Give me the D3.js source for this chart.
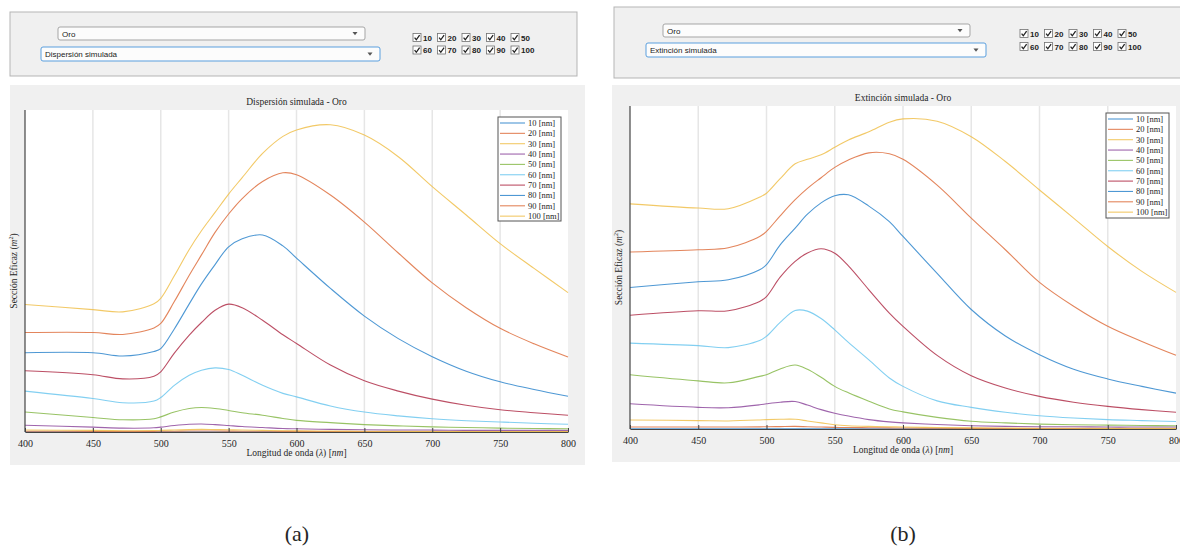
<!DOCTYPE html>
<html>
<head>
<meta charset="utf-8">
<script src="https://cdn.jsdelivr.net/npm/d3@7"></script>
<style>
  body { margin: 0; background: #fff; }
  svg { display: block; }
  .ui { font-family: "Liberation Sans", Arial, sans-serif; font-size: 8px; fill: #222; }
  .serif { font-family: "Liberation Serif", "Times New Roman", serif; fill: #262626; }
</style>
</head>
<body>
<div class="container"></div>
<script>
const sizes = ['10', '20', '30', '40', '50', '60', '70', '80', '90', '100'];
const colors = ['#2f86cc', '#de7040', '#f0bf4c', '#8e4a9e', '#86b84a', '#6cc7ee', '#b0304a', '#2f86cc', '#de7040', '#f0bf4c'];
const ticks = [400, 450, 500, 550, 600, 650, 700, 750, 800];
const lambda = [400, 450, 472, 495, 500, 510, 521, 530, 540, 550, 560, 575, 590, 600, 625, 650, 675, 700, 725, 750, 775, 800];

// Dispersión simulada (one array per size, same order as sizes)
const scaA10 = [0.05, 0.05, 0.05, 0.05, 0.05, 0.05, 0.06, 0.06, 0.06, 0.06, 0.05, 0.05, 0.05, 0.05, 0.04, 0.04, 0.04, 0.03, 0.03, 0.03, 0.03, 0.03];
const scaA20 = [0.25, 0.2, 0.2, 0.2, 0.22, 0.25, 0.3, 0.3, 0.3, 0.28, 0.25, 0.22, 0.2, 0.18, 0.15, 0.12, 0.1, 0.1, 0.1, 0.1, 0.1, 0.1];
const scaA30 = [0.6, 0.5, 0.4, 0.45, 0.5, 0.6, 0.75, 0.8, 0.75, 0.7, 0.6, 0.5, 0.4, 0.35, 0.3, 0.25, 0.2, 0.2, 0.2, 0.15, 0.15, 0.15];
const scaA40 = [2.1, 1.5, 1.2, 1.3, 1.5, 2.0, 2.4, 2.5, 2.3, 2.0, 1.7, 1.4, 1.1, 1.0, 0.8, 0.7, 0.6, 0.6, 0.5, 0.5, 0.5, 0.5];
const scaA50 = [6.2, 4.5, 3.8, 4.1, 4.7, 6.2, 7.3, 7.6, 7.3, 6.7, 6.0, 5.2, 4.2, 3.6, 2.9, 2.3, 1.9, 1.6, 1.4, 1.2, 1.1, 1.0];
const scaA60 = [12.7, 10.4, 9.1, 9.6, 10.7, 14.5, 17.6, 19.2, 19.9, 19.4, 17.6, 14.5, 12.0, 10.9, 8.1, 6.2, 5.0, 4.1, 3.5, 3.1, 2.7, 2.4];
const scaA70 = [19.0, 17.8, 16.5, 17.3, 18.7, 24.5, 30.1, 34.0, 37.8, 39.7, 38.6, 34.7, 30.2, 27.5, 20.8, 15.9, 12.7, 10.2, 8.3, 6.9, 6.0, 5.2];
const scaA80 = [24.6, 24.6, 23.6, 25.0, 25.9, 32.0, 39.8, 46.0, 52.0, 57.5, 60.0, 61.2, 57.8, 54.0, 44.6, 36.0, 29.0, 23.4, 18.9, 15.6, 13.2, 11.1];
const scaA90 = [30.9, 30.9, 30.3, 32.3, 33.7, 40.5, 48.7, 55.0, 62.0, 67.7, 72.5, 77.8, 80.5, 79.9, 73.6, 65.2, 55.6, 46.3, 38.6, 32.2, 27.4, 23.3];
const scaA100 = [39.6, 38.0, 37.3, 39.8, 41.5, 48.5, 56.7, 62.5, 68.2, 73.9, 79.0, 86.5, 91.8, 93.8, 95.4, 92.2, 85.5, 76.2, 67.4, 58.5, 50.8, 43.3];

// Extinción simulada
const extB10 = [0.1, 0.1, 0.1, 0.1, 0.1, 0.1, 0.1, 0.1, 0.1, 0.1, 0.1, 0.1, 0.1, 0.1, 0.08, 0.08, 0.07, 0.07, 0.06, 0.06, 0.06, 0.06];
const extB20 = [0.6, 0.6, 0.6, 0.65, 0.7, 0.75, 0.8, 0.7, 0.6, 0.5, 0.45, 0.4, 0.35, 0.3, 0.25, 0.2, 0.15, 0.15, 0.12, 0.1, 0.1, 0.1];
const extB30 = [2.8, 2.6, 2.5, 2.8, 2.9, 3.0, 3.0, 2.5, 1.9, 1.3, 1.0, 0.8, 0.7, 0.6, 0.45, 0.35, 0.3, 0.25, 0.22, 0.2, 0.2, 0.2];
const extB40 = [7.8, 6.7, 6.6, 7.5, 7.8, 8.3, 8.5, 7.4, 6.0, 4.9, 4.0, 2.9, 2.2, 1.9, 1.4, 1.0, 0.8, 0.7, 0.7, 0.6, 0.6, 0.6];
const extB50 = [16.8, 14.9, 14.3, 16.3, 16.8, 18.6, 19.8, 18.5, 16.0, 13.2, 11.2, 8.6, 6.2, 5.3, 3.6, 2.4, 1.9, 1.5, 1.3, 1.2, 1.1, 1.0];
const extB60 = [26.6, 25.8, 25.2, 27.4, 28.7, 33.0, 36.7, 36.5, 34.2, 30.7, 26.8, 21.4, 15.8, 13.2, 8.7, 6.7, 5.2, 4.1, 3.4, 2.9, 2.6, 2.3];
const extB70 = [35.2, 36.6, 36.6, 39.5, 41.0, 47.0, 51.9, 54.5, 55.8, 54.4, 50.5, 43.1, 35.9, 31.8, 22.8, 16.5, 12.7, 10.1, 8.3, 7.0, 6.0, 5.2];
const extB80 = [43.8, 45.6, 46.2, 49.3, 50.9, 57.0, 62.2, 66.5, 70.0, 72.2, 72.5, 69.0, 64.2, 59.6, 48.2, 37.0, 28.8, 23.0, 18.5, 15.5, 13.2, 11.1];
const extB90 = [54.8, 55.5, 56.1, 59.6, 61.2, 66.0, 71.0, 74.5, 77.8, 81.0, 83.3, 85.5, 85.2, 83.5, 75.5, 65.3, 55.5, 45.4, 38.0, 31.8, 27.1, 22.8];
const extB100 = [69.7, 68.4, 68.2, 71.8, 73.0, 77.5, 82.1, 83.5, 84.9, 87.2, 89.5, 92.0, 95.0, 96.0, 95.3, 90.5, 82.8, 74.0, 65.3, 56.5, 48.8, 42.3];

const panels = [
  {
    mode: 'Dispersión simulada', caption: '(a)',
    series: [scaA10, scaA20, scaA30, scaA40, scaA50, scaA60, scaA70, scaA80, scaA90, scaA100],
    box: { x: 10, y: 12, w: 567, h: 64 },
    dd1: { x: 58, y: 27, w: 307, h: 13 },
    dd2: { x: 41, y: 47, w: 339, h: 14 },
    checks: { x: 413, y1: 37.5, y2: 50 },
    bg: { x: 10, y: 85, w: 575, h: 380 },
    area: { x0: 25, x1: 568, y0: 110, y1: 432 },
    legend: { x: 498, y: 117, w: 63, h: 104 },
    capX: 297
  },
  {
    mode: 'Extinción simulada', caption: '(b)',
    series: [extB10, extB20, extB30, extB40, extB50, extB60, extB70, extB80, extB90, extB100],
    box: { x: 614, y: 7, w: 570, h: 71 },
    dd1: { x: 663, y: 24, w: 307, h: 13 },
    dd2: { x: 646, y: 43, w: 340, h: 14 },
    checks: { x: 1020, y1: 33.5, y2: 46.5 },
    bg: { x: 612, y: 85, w: 572, h: 377 },
    area: { x0: 630, x1: 1176, y0: 106, y1: 429 },
    legend: { x: 1106, y: 113, w: 63, h: 105 },
    capX: 903
  }
];

const svg = d3
  .select('.container')
  .append('svg')
  .attr('width', 1180)
  .attr('height', 550);

const dropdown = (g, b, label, active) => {
  g.append('rect')
    .attr('x', b.x).attr('y', b.y)
    .attr('width', b.w).attr('height', b.h)
    .attr('rx', 2)
    .attr('fill', '#fcfcfc')
    .attr('stroke', active ? '#5b9fde' : '#a5a5a5');
  g.append('text')
    .attr('class', 'ui')
    .attr('x', b.x + 4)
    .attr('y', b.y + b.h / 2 + 3)
    .text(label);
  const ax = b.x + b.w - 10;
  const ay = b.y + b.h / 2;
  g.append('path')
    .attr('d', `M${ax - 2.5},${ay - 1.5}L${ax + 2.5},${ay - 1.5}L${ax},${ay + 1.8}Z`)
    .attr('fill', '#555');
};

const drawControls = p => {
  const g = svg.append('g').attr('class', 'controls');
  g.append('rect')
    .attr('x', p.box.x).attr('y', p.box.y)
    .attr('width', p.box.w).attr('height', p.box.h)
    .attr('fill', '#f0f0f0')
    .attr('stroke', '#b5b5b5');

  dropdown(g, p.dd1, 'Oro', false);
  dropdown(g, p.dd2, p.mode, true);

  const items = g
    .selectAll('.check')
    .data(sizes)
    .enter()
    .append('g')
    .attr('class', 'check')
    .attr('transform', (d, i) => `translate(${p.checks.x + (i % 5) * 24.5}, ${i < 5 ? p.checks.y1 : p.checks.y2})`);

  items.append('rect')
    .attr('x', 0).attr('y', -4)
    .attr('width', 8).attr('height', 8)
    .attr('fill', '#fff')
    .attr('stroke', '#707070')
    .attr('stroke-width', 0.8);
  items.append('path')
    .attr('d', 'M1.6,0.2L3.3,2.3L6.6,-2.3')
    .attr('fill', 'none')
    .attr('stroke', '#222')
    .attr('stroke-width', 1.3);
  items.append('text')
    .attr('class', 'ui')
    .attr('x', 10)
    .attr('y', 3)
    .attr('font-weight', 600)
    .attr('fill', '#555')
    .text(d => d);
};

const drawPlot = p => {
  const a = p.area;
  const g = svg.append('g').attr('class', 'plot');

  g.append('rect')
    .attr('x', p.bg.x).attr('y', p.bg.y)
    .attr('width', p.bg.w).attr('height', p.bg.h)
    .attr('fill', '#f0f0f0');
  g.append('rect')
    .attr('x', a.x0).attr('y', a.y0)
    .attr('width', a.x1 - a.x0).attr('height', a.y1 - a.y0)
    .attr('fill', '#fff');

  const x = d3.scaleLinear().domain([400, 800]).range([a.x0, a.x1]);
  const y = d3.scaleLinear().domain([0, 100]).range([a.y1, a.y0]);

  // grid
  g.selectAll('.grid')
    .data(ticks.slice(1, -1))
    .enter()
    .append('line')
    .attr('x1', d => x(d)).attr('x2', d => x(d))
    .attr('y1', a.y0).attr('y2', a.y1)
    .attr('stroke', '#e6e6e6')
    .attr('stroke-width', 1.5);

  const line = d3
    .line()
    .x((d, i) => x(lambda[i]))
    .y(d => y(d))
    .curve(d3.curveCatmullRom.alpha(0.5));

  g.selectAll('.curve')
    .data(p.series)
    .enter()
    .append('path')
    .attr('class', 'curve')
    .attr('d', line)
    .attr('fill', 'none')
    .attr('stroke', (d, i) => colors[i])
    .attr('stroke-width', 1.1)
    .attr('stroke-opacity', 0.85);

  // axes
  const xAxis = g
    .append('g')
    .attr('transform', `translate(0, ${a.y1})`)
    .call(d3.axisBottom(x).tickValues(ticks).tickSizeInner(-4).tickSizeOuter(0).tickPadding(8));
  xAxis.select('.domain').attr('stroke', '#444').attr('stroke-width', 1);
  xAxis.selectAll('.tick line').attr('stroke', '#444');
  xAxis.selectAll('text')
    .attr('class', 'serif')
    .attr('font-size', 10)
    .attr('fill', '#262626');

  g.append('line')
    .attr('x1', a.x0).attr('x2', a.x0)
    .attr('y1', a.y0).attr('y2', a.y1)
    .attr('stroke', '#444')
    .attr('stroke-width', 1.2);

  const cx = (a.x0 + a.x1) / 2;
  g.append('text')
    .attr('class', 'serif')
    .attr('x', cx)
    .attr('y', a.y0 - 5)
    .attr('text-anchor', 'middle')
    .attr('font-size', 9.5)
    .text(`${p.mode} - Oro`);

  const xl = g.append('text')
    .attr('class', 'serif')
    .attr('x', cx)
    .attr('y', a.y1 + 24)
    .attr('text-anchor', 'middle')
    .attr('font-size', 9.5);
  xl.append('tspan').text('Longitud de onda (');
  xl.append('tspan').attr('font-style', 'italic').text('λ');
  xl.append('tspan').text(')  [');
  xl.append('tspan').attr('font-style', 'italic').text('nm');
  xl.append('tspan').text(']');

  const yl = g.append('text')
    .attr('class', 'serif')
    .attr('transform', `translate(${a.x0 - 8}, ${(a.y0 + a.y1) / 2}) rotate(-90)`)
    .attr('text-anchor', 'middle')
    .attr('font-size', 9.5);
  yl.append('tspan').text('Sección Eficaz (');
  yl.append('tspan').attr('font-style', 'italic').text('m');
  yl.append('tspan').attr('font-size', 6).attr('dy', -4).text('2');
  yl.append('tspan').attr('dy', 4).text(')');

  // legend
  const L = p.legend;
  g.append('rect')
    .attr('x', L.x).attr('y', L.y)
    .attr('width', L.w).attr('height', L.h)
    .attr('fill', '#fff')
    .attr('stroke', '#555')
    .attr('stroke-width', 1);
  const rows = g
    .selectAll('.leg')
    .data(sizes)
    .enter()
    .append('g')
    .attr('transform', (d, i) => `translate(${L.x}, ${L.y + 6 + i * 10.35})`);
  rows.append('line')
    .attr('x1', 2).attr('x2', 27)
    .attr('stroke', (d, i) => colors[i])
    .attr('stroke-width', 1.1)
    .attr('stroke-opacity', 0.85);
  rows.append('text')
    .attr('class', 'serif')
    .attr('x', 30)
    .attr('y', 3)
    .attr('font-size', 8.5)
    .text(d => `${d} [nm]`);

  svg.append('text')
    .attr('class', 'serif')
    .attr('x', p.capX)
    .attr('y', 541)
    .attr('text-anchor', 'middle')
    .attr('font-size', 22)
    .attr('fill', '#000')
    .text(p.caption);
};

panels.forEach(p => {
  drawControls(p);
  drawPlot(p);
});
</script>
</body>
</html>
